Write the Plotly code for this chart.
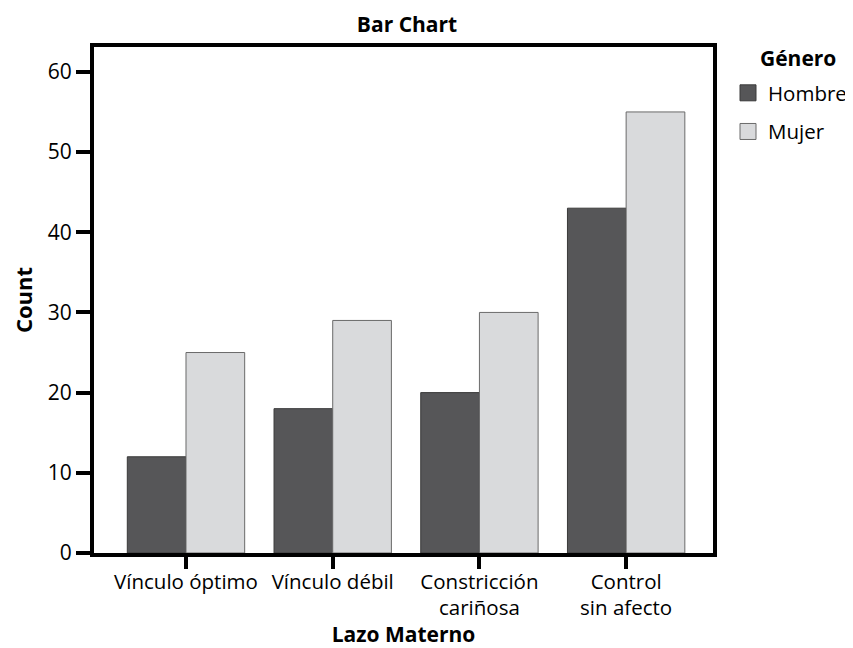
import plotly.graph_objects as go

categories = ["Vínculo óptimo", "Vínculo débil", "Constricción<br>cariñosa", "Control<br>sin afecto"]
hombre = [12, 18, 20, 43]
mujer = [25, 29, 30, 55]
y_ticks = [0, 10, 20, 30, 40, 50, 60]
series_names = ["Hombre", "Mujer"]
fill_colors = ["#565658", "#d9dadc"]
edge_colors = ["#3a3a3a", "#6a6a6a"]

FONT = "Open Sans, Lato, sans-serif"
xpos = list(range(len(categories)))

fig = go.Figure()
for name, vals, fc, ec in zip(series_names, [hombre, mujer], fill_colors, edge_colors):
    fig.add_trace(go.Bar(x=xpos, y=vals, name=name, legendgroup=name, showlegend=False,
                         marker=dict(color=fc, line=dict(color=ec, width=1))))
# legend swatches (square markers) for each series
for name, fc, ec in zip(series_names, fill_colors, edge_colors):
    fig.add_trace(go.Scatter(x=[None], y=[None], mode="markers", name=name, legendgroup=name,
                             marker=dict(symbol="square", size=16, color=fc,
                                         line=dict(color=ec, width=1))))

fig.update_layout(
    width=845, height=640,
    paper_bgcolor="white", plot_bgcolor="white",
    barmode="group", bargap=0.2, bargroupgap=0,
    margin=dict(l=86, r=140, t=39, b=95),
    font=dict(family=FONT, color="black", size=20),
    title=dict(text="<b>Bar Chart</b>", x=399 / 845, xanchor="center",
               y=1 - 17 / 640, yanchor="middle", yref="container",
               font=dict(size=21, family=FONT)),
    showlegend=True,
    legend=dict(xref="container", yref="container",
                x=720 / 845, xanchor="left", y=1 - 65 / 640, yanchor="top",
                font=dict(size=20.5), tracegroupgap=9, bgcolor="rgba(0,0,0,0)"),
    annotations=[dict(text="<b>Género</b>", xref="paper", yref="paper",
                      x=1.1373, y=0.978, xanchor="center", yanchor="middle",
                      showarrow=False, font=dict(size=21, family=FONT))],
    xaxis=dict(range=[-0.627, 3.592], tickvals=xpos, ticktext=categories,
               showline=True, linewidth=4, linecolor="black", mirror=True,
               ticks="outside", ticklen=12, tickwidth=4, tickcolor="black",
               showgrid=False, zeroline=False, tickfont=dict(size=20.5),
               ticklabelstandoff=-5, automargin=False,
               title=dict(text="<b>Lazo Materno</b>", font=dict(size=21), standoff=6)),
    yaxis=dict(range=[0, 63.1], tickvals=y_ticks,
               showline=True, linewidth=4, linecolor="black", mirror=True,
               ticks="outside", ticklen=14, tickwidth=4, tickcolor="black",
               showgrid=False, zeroline=False, tickfont=dict(size=21), automargin=False,
               title=dict(text="<b>Count</b>", font=dict(size=22), standoff=21)),
)

fig.write_html("out.html")
